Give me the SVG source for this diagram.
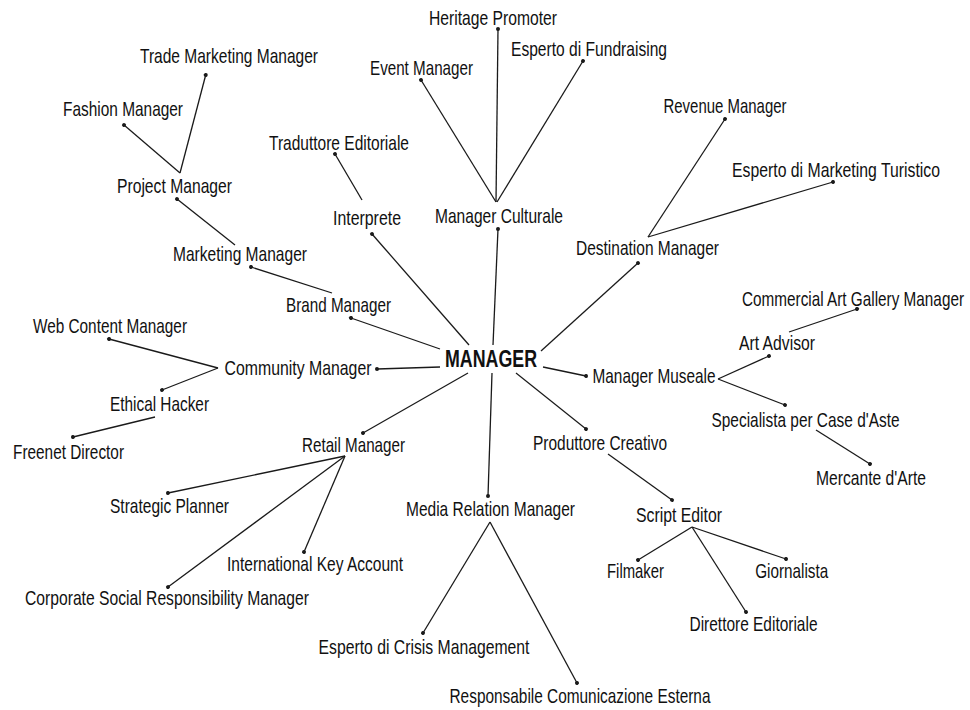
<svg xmlns="http://www.w3.org/2000/svg" width="970" height="710" viewBox="0 0 970 710">
<defs>
<style>
text{font-family:"Liberation Sans",Arial,sans-serif;font-size:21px;fill:#111;text-anchor:middle}
.main{font-size:23px;font-weight:bold}
.c path{fill:none;stroke:#1a1a1a;stroke-width:1.3}
</style>
<marker id="dot" viewBox="-3 -3 6 6" markerWidth="6" markerHeight="6" markerUnits="userSpaceOnUse" orient="auto">
<circle r="2" fill="#1a1a1a"/>
</marker>
</defs>
<rect width="970" height="710" fill="#fff"/>
<g id="connectors" class="c">
<path d="M205.7,75 L180,173" marker-start="url(#dot)"/>
<path d="M124,125 L180,173" marker-start="url(#dot)"/>
<path d="M177,199 L235,245" marker-start="url(#dot)"/>
<path d="M251,267 L332,293" marker-start="url(#dot)"/>
<path d="M351,318 L440,349" marker-start="url(#dot)"/>
<path d="M109,339 L218,368" marker-start="url(#dot)"/>
<path d="M162,390 L218,368" marker-start="url(#dot)"/>
<path d="M377,369 L440,367" marker-start="url(#dot)"/>
<path d="M73,437 L155,417" marker-start="url(#dot)"/>
<path d="M363,433 L468,373" marker-start="url(#dot)"/>
<path d="M168,493 L345,456" marker-start="url(#dot)"/>
<path d="M168,587 L345,456" marker-start="url(#dot)"/>
<path d="M304,552 L345,456" marker-start="url(#dot)"/>
<path d="M372,234 L469,345" marker-start="url(#dot)"/>
<path d="M335,154 L362,200" marker-start="url(#dot)"/>
<path d="M498,229 L493,345" marker-start="url(#dot)"/>
<path d="M421,80 L496,202" marker-start="url(#dot)"/>
<path d="M498,29 L496,202" marker-start="url(#dot)"/>
<path d="M583,61 L497,202" marker-start="url(#dot)"/>
<path d="M638,263 L541,351" marker-start="url(#dot)"/>
<path d="M725,119 L648,237" marker-start="url(#dot)"/>
<path d="M833,182 L648,237" marker-start="url(#dot)"/>
<path d="M586,376 L543,367" marker-start="url(#dot)"/>
<path d="M769,356 L718,379" marker-start="url(#dot)"/>
<path d="M785,405 L718,379" marker-start="url(#dot)"/>
<path d="M857,309 L789,332" marker-start="url(#dot)"/>
<path d="M870,464 L816,430" marker-start="url(#dot)"/>
<path d="M586,429 L516,373" marker-start="url(#dot)"/>
<path d="M672,500 L608,454" marker-start="url(#dot)"/>
<path d="M638,560 L692,527" marker-start="url(#dot)"/>
<path d="M786,559 L692,527" marker-start="url(#dot)"/>
<path d="M746,612 L692,527" marker-start="url(#dot)"/>
<path d="M488,496 L492,373" marker-start="url(#dot)"/>
<path d="M423,633 L490,522" marker-start="url(#dot)"/>
<path d="M577,683 L490,522" marker-start="url(#dot)"/>
</g>
<g id="manager"><text class="main" x="491" y="367" textLength="92" lengthAdjust="spacingAndGlyphs">MANAGER</text></g>
<g id="trade-marketing-manager"><text x="229" y="63" textLength="178" lengthAdjust="spacingAndGlyphs">Trade Marketing Manager</text></g>
<g id="fashion-manager"><text x="123" y="116" textLength="120" lengthAdjust="spacingAndGlyphs">Fashion Manager</text></g>
<g id="project-manager"><text x="174.5" y="193" textLength="115" lengthAdjust="spacingAndGlyphs">Project Manager</text></g>
<g id="traduttore-editoriale"><text x="339" y="150" textLength="140" lengthAdjust="spacingAndGlyphs">Traduttore Editoriale</text></g>
<g id="marketing-manager"><text x="240" y="261" textLength="134" lengthAdjust="spacingAndGlyphs">Marketing Manager</text></g>
<g id="brand-manager"><text x="338.5" y="312" textLength="105" lengthAdjust="spacingAndGlyphs">Brand Manager</text></g>
<g id="web-content-manager"><text x="110" y="333" textLength="154" lengthAdjust="spacingAndGlyphs">Web Content Manager</text></g>
<g id="community-manager"><text x="298" y="375" textLength="147" lengthAdjust="spacingAndGlyphs">Community Manager</text></g>
<g id="ethical-hacker"><text x="159.5" y="411" textLength="99" lengthAdjust="spacingAndGlyphs">Ethical Hacker</text></g>
<g id="freenet-director"><text x="68.5" y="459" textLength="111" lengthAdjust="spacingAndGlyphs">Freenet Director</text></g>
<g id="retail-manager"><text x="353.5" y="452" textLength="103" lengthAdjust="spacingAndGlyphs">Retail Manager</text></g>
<g id="strategic-planner"><text x="169.5" y="513" textLength="119" lengthAdjust="spacingAndGlyphs">Strategic Planner</text></g>
<g id="international-key-account"><text x="315" y="571" textLength="176" lengthAdjust="spacingAndGlyphs">International Key Account</text></g>
<g id="csr-manager"><text x="167" y="605" textLength="284" lengthAdjust="spacingAndGlyphs">Corporate Social Responsibility Manager</text></g>
<g id="interprete"><text x="367" y="225" textLength="68" lengthAdjust="spacingAndGlyphs">Interprete</text></g>
<g id="heritage-promoter"><text x="493" y="25" textLength="128" lengthAdjust="spacingAndGlyphs">Heritage Promoter</text></g>
<g id="event-manager"><text x="421.5" y="75" textLength="103" lengthAdjust="spacingAndGlyphs">Event Manager</text></g>
<g id="esperto-fundraising"><text x="589" y="56" textLength="156" lengthAdjust="spacingAndGlyphs">Esperto di Fundraising</text></g>
<g id="manager-culturale"><text x="499" y="222.7" textLength="128" lengthAdjust="spacingAndGlyphs">Manager Culturale</text></g>
<g id="revenue-manager"><text x="725" y="113" textLength="123" lengthAdjust="spacingAndGlyphs">Revenue Manager</text></g>
<g id="esperto-marketing-turistico"><text x="836" y="176.7" textLength="208" lengthAdjust="spacingAndGlyphs">Esperto di Marketing Turistico</text></g>
<g id="destination-manager"><text x="647.5" y="255" textLength="143" lengthAdjust="spacingAndGlyphs">Destination Manager</text></g>
<g id="commercial-art-gallery-manager"><text x="853" y="306" textLength="222" lengthAdjust="spacingAndGlyphs">Commercial Art Gallery Manager</text></g>
<g id="art-advisor"><text x="777" y="350" textLength="76" lengthAdjust="spacingAndGlyphs">Art Advisor</text></g>
<g id="manager-museale"><text x="654" y="383" textLength="123" lengthAdjust="spacingAndGlyphs">Manager Museale</text></g>
<g id="specialista-case-aste"><text x="805.5" y="426.7" textLength="188" lengthAdjust="spacingAndGlyphs">Specialista per Case d'Aste</text></g>
<g id="mercante-arte"><text x="871" y="485" textLength="110" lengthAdjust="spacingAndGlyphs">Mercante d'Arte</text></g>
<g id="produttore-creativo"><text x="600" y="450" textLength="134" lengthAdjust="spacingAndGlyphs">Produttore Creativo</text></g>
<g id="script-editor"><text x="679" y="521.7" textLength="86" lengthAdjust="spacingAndGlyphs">Script Editor</text></g>
<g id="filmaker"><text x="635.5" y="578.3" textLength="57" lengthAdjust="spacingAndGlyphs">Filmaker</text></g>
<g id="giornalista"><text x="791.7" y="578.3" textLength="73" lengthAdjust="spacingAndGlyphs">Giornalista</text></g>
<g id="direttore-editoriale"><text x="753.5" y="630.7" textLength="128" lengthAdjust="spacingAndGlyphs">Direttore Editoriale</text></g>
<g id="media-relation-manager"><text x="490.5" y="516" textLength="169" lengthAdjust="spacingAndGlyphs">Media Relation Manager</text></g>
<g id="esperto-crisis-management"><text x="424" y="653.5" textLength="211" lengthAdjust="spacingAndGlyphs">Esperto di Crisis Management</text></g>
<g id="responsabile-comunicazione-esterna"><text x="580" y="703.3" textLength="261" lengthAdjust="spacingAndGlyphs">Responsabile Comunicazione Esterna</text></g>
</svg>
